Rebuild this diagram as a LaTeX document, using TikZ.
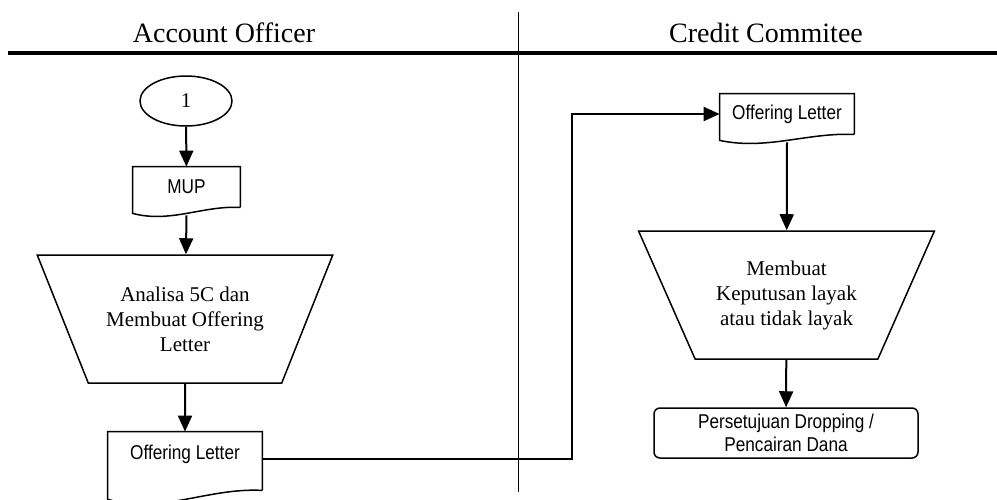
\documentclass[tikz,border=0pt]{standalone}
\usepackage{fontspec}
\setmainfont{Liberation Serif}
\newfontfamily\docfont[FakeStretch=0.86]{Liberation Sans}
\usetikzlibrary{shapes.geometric,arrows.meta,calc}

\tikzset{
  flow/.style={-{Triangle[length=8pt,width=7pt]}, line width=1pt},
  outline/.style={line width=0.75pt},
  lane/.style={font=\fontsize{14}{16}\selectfont},
  termbox/.style={ellipse, draw, outline, minimum width=46pt, minimum height=25pt, font=\fontsize{10.5}{12.5}\selectfont},
  docbox/.style={rectangle, minimum height=20pt, inner sep=0pt, align=center, font=\docfont\fontsize{10}{11.5}\selectfont},
  procbox/.style={trapezium, shape border rotate=180, trapezium left angle=60, trapezium right angle=60,
    trapezium stretches=true, minimum width=148pt, minimum height=64pt, draw, outline, align=center,
    font=\fontsize{10.5}{12.5}\selectfont},
  endbox/.style={rectangle, rounded corners=3pt, draw, outline, minimum width=132pt, minimum height=25pt,
    inner sep=0pt, align=center, font=\docfont\fontsize{10}{11.5}\selectfont}
}

% document symbol: box with a wavy bottom edge
\newcommand\docoutline[2]{%
  \draw[outline] (#1.south east) -- (#1.north east) -- (#1.north west) -- ([yshift=-0.75*#2]#1.south west)
    .. controls ($(#1.south west)!0.35!(#1.south east)+(0,-2*#2)$) and ($(#1.south west)!0.65!(#1.south east)+(0,0.25*#2)$) .. (#1.south east);}

\begin{document}
\begin{tikzpicture}[x=0.5pt,y=-0.5pt]
	\useasboundingbox (0,0) rectangle (997,499);
	% Lanes
	\node[lane] (ao) at (224,33) {Account Officer};
	\node[lane] (cc) at (766,33) {Credit Commitee};
	\draw[line width=1.75pt] (8,53) -- (997,53);
	\draw[line width=0.5pt] (518,12) -- (518,492);

	% Account Officer
	\node[termbox] (one) at (186,101) {1};
	\node[docbox, minimum width=53.5pt] (mup) at (186.5,187) {MUP};
	\docoutline{mup}{4pt}
	\node[procbox] (analisa) at (185,319) {Analisa 5C dan\\Membuat Offering\\Letter};
	\node[docbox, minimum width=77pt, minimum height=29pt, text depth=9pt] (offA) at (185,461) {Offering Letter};
	\docoutline{offA}{6pt}

	% Credit Commitee
	\node[docbox, minimum width=67pt] (offB) at (787,114) {Offering Letter};
	\docoutline{offB}{4pt}
	\node[procbox] (keput) at (786.5,295) {Membuat\\Keputusan layak\\atau tidak layak};
	\node[endbox] (cair) at (786,433) {Persetujuan Dropping /\\Pencairan Dana};

	\draw[flow] (one) -- (mup);
	\draw[flow] ([yshift=-4pt]mup.south) -- (analisa);
	\draw[flow] (analisa) -- (offA);
	\draw[flow] ([yshift=1pt]offA.east) -- ++(310,0) |- (offB.west);
	\draw[flow] ([yshift=-4pt]offB.south) -- (keput);
	\draw[flow] (keput) -- (cair);
\end{tikzpicture}
\end{document}
